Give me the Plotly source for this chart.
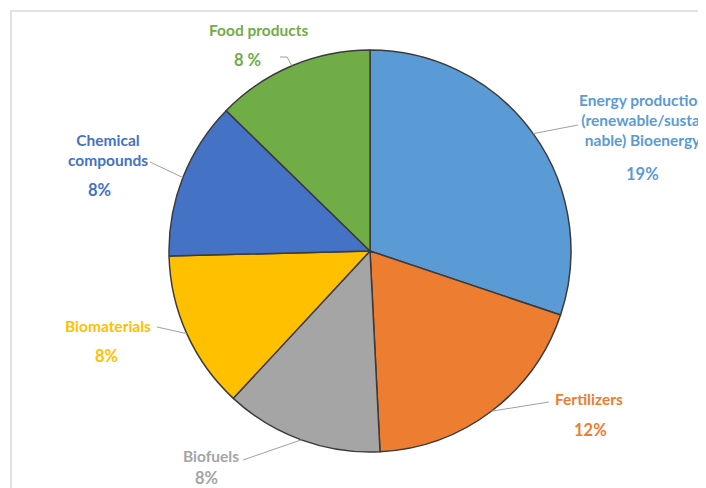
import math
import plotly.graph_objects as go

categories = ["Energy production<br>(renewable/sustai<br>nable) Bioenergy", "Fertilizers", "Biofuels",
              "Biomaterials", "Chemical<br>compounds", "Food products"]
values = [19, 12, 8, 8, 8, 8]
value_labels = ["19%", "12%", "8%", "8%", "8%", "8 %"]
colors = ["#5B9BD5", "#ED7D31", "#A5A5A5", "#FFC000", "#4472C4", "#70AD47"]
text_colors = ["#5B9BD5", "#ED7D31", "#A5A5A5", "#FFC000", "#4472C4", "#70AD47"]

# page body has an 8px margin; figure is sized to fit the 706x488 window
OFF = 8
W, H = 706 - OFF, 488 - OFF
CX, CY, R = 370, 251, 201

# label layout (window pixel positions)
name_pos = [(642, 120), (589, 399), (211, 456), (108, 326), (108, 150), (258, 30)]
value_pos = [(642, 174), (590, 430), (206, 478), (106, 356), (100, 190), (247, 60)]
leader_end = [[(578, 125)], [(549, 402)], [(243, 460)], [(157, 327)], [(150, 162)], [(287, 57), (280, 57)]]

def px(x):
    return (x - OFF) / W

def py(y):
    return 1 - (y - OFF) / H

fig = go.Figure(go.Pie(
    labels=[c.replace("<br>", " ") for c in categories],
    values=values,
    sort=False,
    direction="clockwise",
    rotation=0,
    textinfo="none",
    marker=dict(colors=colors, line=dict(color="#3b3b3b", width=1.5)),
    domain=dict(x=[px(CX - R), px(CX + R)], y=[py(CY + R), py(CY - R)]),
    showlegend=False,
))

annotations = []
shapes = []
total = sum(values)
cum = 0
for i, v in enumerate(values):
    mid = (cum + v / 2) / total * 2 * math.pi
    cum += v
    sx = CX + R * math.sin(mid)
    sy = CY - R * math.cos(mid)
    pts = [(sx, sy)] + leader_end[i]
    path = "M " + " L ".join(f"{px(x)},{py(y)}" for x, y in pts)
    shapes.append(dict(type="path", xref="paper", yref="paper", path=path,
                       line=dict(color="#a0a0a0", width=1)))
    annotations.append(dict(x=px(name_pos[i][0]), y=py(name_pos[i][1]), xref="paper", yref="paper",
                            text="<b>" + categories[i] + "</b>", showarrow=False,
                            xanchor="center", yanchor="middle", align="center",
                            font=dict(family="Lato", size=15.5, color=text_colors[i])))
    annotations.append(dict(x=px(value_pos[i][0]), y=py(value_pos[i][1]), xref="paper", yref="paper",
                            text="<b>" + value_labels[i] + "</b>", showarrow=False,
                            xanchor="center", yanchor="middle",
                            font=dict(family="Lato", size=16.5, color=text_colors[i])))

# chart area frame
shapes.append(dict(type="path", xref="paper", yref="paper",
                   path=f"M {px(11)},0 L {px(11)},{py(11)} L {px(705)},{py(11)}",
                   line=dict(color="#d9d9d9", width=1.5)))

fig.update_layout(
    width=W, height=H,
    margin=dict(l=0, r=0, t=0, b=0),
    paper_bgcolor="white", plot_bgcolor="white",
    annotations=annotations, shapes=shapes,
)
fig.write_html("out.html")
